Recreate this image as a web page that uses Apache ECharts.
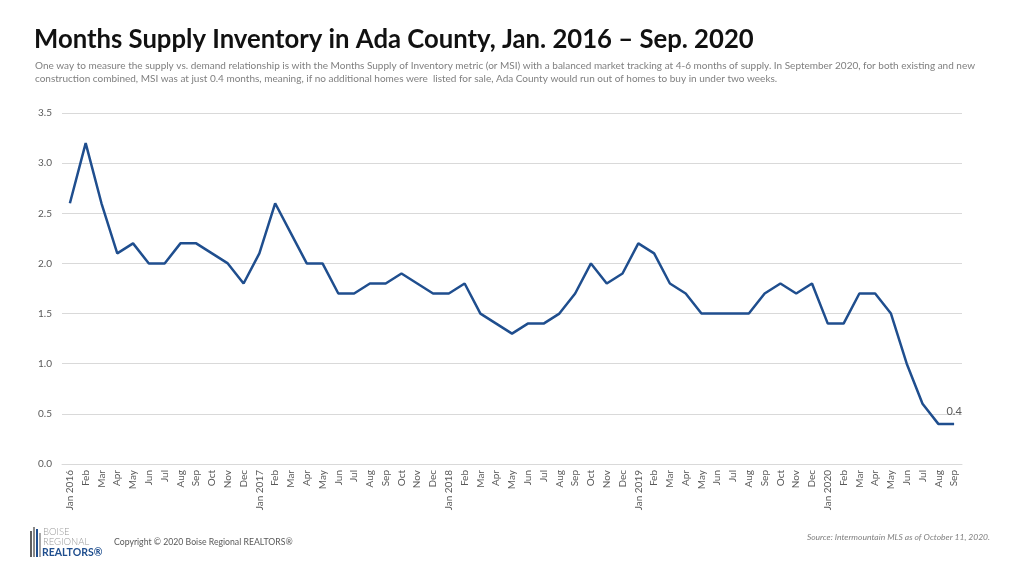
<!DOCTYPE html>
<html><head><meta charset="utf-8">
<script src="https://cdn.jsdelivr.net/npm/echarts@6/dist/echarts.min.js"></script>
<style>html,body{margin:0;padding:0;background:#fff}#c{width:1024px;height:576px}</style>
</head><body><div id="c"></div>
<script>
const months = ['Jan','Feb','Mar','Apr','May','Jun','Jul','Aug','Sep','Oct','Nov','Dec'];
const years = [2016, 2017, 2018, 2019, 2020];
const lastMonthCount2020 = 9;
const msi2016 = [2.6, 3.2, 2.6, 2.1, 2.2, 2.0, 2.0, 2.2, 2.2, 2.1, 2.0, 1.8];
const msi2017 = [2.1, 2.6, 2.3, 2.0, 2.0, 1.7, 1.7, 1.8, 1.8, 1.9, 1.8, 1.7];
const msi2018 = [1.7, 1.8, 1.5, 1.4, 1.3, 1.4, 1.4, 1.5, 1.7, 2.0, 1.8, 1.9];
const msi2019 = [2.2, 2.1, 1.8, 1.7, 1.5, 1.5, 1.5, 1.5, 1.7, 1.8, 1.7, 1.8];
const msi2020 = [1.4, 1.4, 1.7, 1.7, 1.5, 1.0, 0.6, 0.4, 0.4];

const categories = [];
years.forEach(y => {
  const n = y === 2020 ? lastMonthCount2020 : 12;
  for (let i = 0; i < n; i++) categories.push(i === 0 ? 'Jan ' + y : months[i]);
});
const values = [].concat(msi2016, msi2017, msi2018, msi2019, msi2020);

const titleText = 'Months Supply Inventory in Ada County, Jan. 2016 \u2013 Sep. 2020';
const subLine1 = 'One way to measure the supply vs. demand relationship is with the Months Supply of Inventory metric (or MSI) with a balanced market tracking at 4-6 months of supply. In September 2020, for both existing and new';
const subLine2 = 'construction combined, MSI was at just 0.4 months, meaning, if no additional homes were  listed for sale, Ada County would run out of homes to buy in under two weeks.';
const copyrightText = 'Copyright \u00A9 2020 Boise Regional REALTORS\u00AE';
const sourceText = 'Source: Intermountain MLS as of October 11, 2020.';

const chart = echarts.init(document.getElementById('c'));
const FONT = 'Lato';
const BLUE = '#1f4e8e';
chart.setOption({
  backgroundColor: '#fff',
  animation: false,
  textStyle: { fontFamily: FONT },
  title: {
    text: titleText,
    left: 34, top: 27, padding: 0,
    textStyle: { fontFamily: FONT, fontSize: 25.7, fontWeight: 'bold', color: '#111' }
  },
  grid: { left: 62, right: 62, top: 113, bottom: 112, containLabel: false },
  xAxis: {
    type: 'category',
    data: categories,
    boundaryGap: true,
    axisLine: { lineStyle: { color: '#d9d9d9' } },
    axisTick: { show: false },
    axisLabel: { rotate: 90, interval: 0, color: '#595959', fontSize: 10, margin: 6 }
  },
  yAxis: {
    type: 'value',
    min: 0, max: 3.5, interval: 0.5,
    axisLine: { show: false },
    axisTick: { show: false },
    splitLine: { lineStyle: { color: '#d9d9d9' } },
    axisLabel: { color: '#595959', fontSize: 10, margin: 10, formatter: v => v.toFixed(1) }
  },
  series: [{
    type: 'line',
    data: values.map((v, i) => i === values.length - 1
      ? { value: v, label: { show: true, position: 'top', distance: 7, offset: [0, 0], color: '#595959', fontSize: 11, formatter: p => p.value.toFixed(1) } }
      : v),
    symbol: 'circle',
    symbolSize: 0,
    showSymbol: true,
    label: { show: false },
    lineStyle: { color: BLUE, width: 2.5 },
    itemStyle: { color: BLUE }
  }],
  graphic: [
    { type: 'text', left: 35, top: 61, style: { text: subLine1, fontFamily: FONT, fontSize: 10, fill: '#7f7f7f' } },
    { type: 'text', left: 35, top: 74, style: { text: subLine2, fontFamily: FONT, fontSize: 10, fill: '#7f7f7f' } },
    // logo
    { type: 'rect', shape: { x: 30, y: 531, width: 2, height: 26 }, style: { fill: '#5f5f5f' } },
    { type: 'rect', shape: { x: 33, y: 527, width: 2, height: 30 }, style: { fill: '#8a8a8a' } },
    { type: 'rect', shape: { x: 36, y: 529, width: 2, height: 28 }, style: { fill: BLUE } },
    { type: 'rect', shape: { x: 39, y: 533, width: 2, height: 24 }, style: { fill: '#a8a8a8' } },
    { type: 'text', left: 43, top: 527, style: { text: 'BOISE', fontFamily: FONT, fontSize: 9.5, fontWeight: 300, fill: '#9a9a9a' } },
    { type: 'text', left: 43, top: 537, style: { text: 'REGIONAL', fontFamily: FONT, fontSize: 9.5, fontWeight: 300, fill: '#9a9a9a' } },
    { type: 'text', left: 42, top: 547, style: { text: 'REALTORS\u00AE', fontFamily: FONT, fontSize: 10.5, fontWeight: 'bold', fill: BLUE } },
    { type: 'text', left: 114, top: 538, style: { text: copyrightText, fontFamily: FONT, fontSize: 8.7, fill: '#595959' } },
    { type: 'text', right: 34, top: 533, style: { text: sourceText, fontFamily: FONT, fontSize: 8.5, fontStyle: 'italic', fill: '#7f7f7f' } }
  ]
});
</script></body></html>
